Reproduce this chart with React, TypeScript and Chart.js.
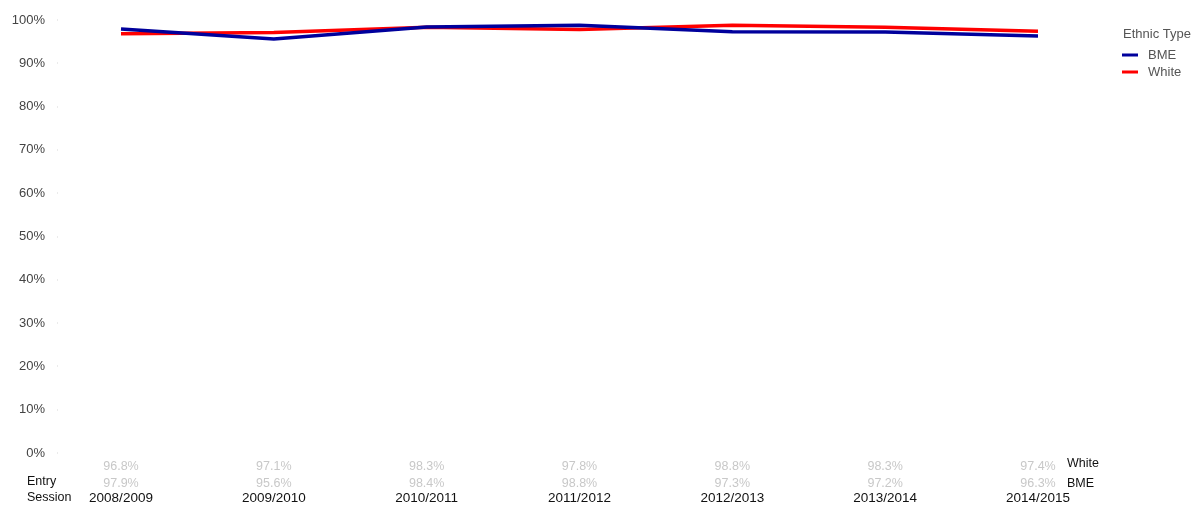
import React, { useEffect, useRef } from "react";
import { Chart, registerables } from "chart.js";

Chart.register(...registerables);

const categories = ["2008/2009", "2009/2010", "2010/2011", "2011/2012", "2012/2013", "2013/2014", "2014/2015"];
const bmeValues = [97.9, 95.6, 98.4, 98.8, 97.3, 97.2, 96.3];
const whiteValues = [96.8, 97.1, 98.3, 97.8, 98.8, 98.3, 97.4];
const seriesNames = ["BME", "White"];
const seriesColors = ["#00009c", "#ff0000"];
const legendTitle = "Ethnic Type";
const axisTitleLines = ["Entry", "Session"];

const FONT = "'Liberation Sans', Arial, sans-serif";

const tablePlugin = {
  id: "tablePlugin",
  afterDraw(chart: any) {
    const ctx = chart.ctx;
    const xs = chart.scales.x;
    const area = chart.chartArea;
    ctx.save();
    ctx.font = `12.5px ${FONT}`;
    ctx.textBaseline = "middle";
    // value rows
    ctx.fillStyle = "#c8c8c8";
    ctx.textAlign = "center";
    categories.forEach((_, i) => {
      const x = xs.getPixelForValue(i);
      ctx.fillText(whiteValues[i].toFixed(1) + "%", x, 467);
      ctx.fillText(bmeValues[i].toFixed(1) + "%", x, 484);
    });
    // row labels
    ctx.fillStyle = "#111";
    ctx.textAlign = "left";
    ctx.fillText(seriesNames[1], area.right + 29, 464);
    ctx.fillText(seriesNames[0], area.right + 29, 484);
    ctx.fillText(axisTitleLines[0], 27, 482);
    ctx.fillText(axisTitleLines[1], 27, 498);
    // small tick dots on y axis
    ctx.fillStyle = "#d8d8d8";
    const ys = chart.scales.y;
    ys.ticks.forEach((t: any) => {
      const y = ys.getPixelForValue(t.value);
      ctx.fillRect(57, Math.round(y) - 0.5, 1, 1);
    });
    // legend
    ctx.font = `13px ${FONT}`;
    ctx.fillStyle = "#555";
    ctx.fillText(legendTitle, 1123, 34);
    seriesNames.forEach((name, i) => {
      const y = 55 + i * 17;
      ctx.strokeStyle = seriesColors[i];
      ctx.lineWidth = 3;
      ctx.beginPath();
      ctx.moveTo(1122, y);
      ctx.lineTo(1138, y);
      ctx.stroke();
      ctx.fillStyle = "#555";
      ctx.fillText(name, 1148, y);
    });
    ctx.restore();
  },
};

export default function App() {
  const ref = useRef<HTMLCanvasElement>(null);
  useEffect(() => {
    document.body.style.margin = "0";
    const chart = new Chart(ref.current!, {
      type: "line",
      data: {
        labels: categories,
        datasets: [
          {
            label: seriesNames[0],
            data: bmeValues,
            borderColor: seriesColors[0],
            backgroundColor: seriesColors[0],
            borderWidth: 3.5,
            pointRadius: 0,
            tension: 0,
          },
          {
            label: seriesNames[1],
            data: whiteValues,
            borderColor: seriesColors[1],
            backgroundColor: seriesColors[1],
            borderWidth: 3.5,
            pointRadius: 0,
            tension: 0,
          },
        ],
      },
      options: {
        animation: false,
        responsive: false,
        layout: { padding: { top: 20, right: 165, left: 0, bottom: 0 } },
        plugins: { legend: { display: false }, tooltip: { enabled: false } },
        scales: {
          x: {
            type: "category",
            offset: false,
            grid: { display: false, drawTicks: false },
            border: { display: false },
            ticks: {
              padding: 37,
              color: "#111",
              font: { family: FONT, size: 13.5 },
              maxRotation: 0,
              autoSkip: false,
            },
            afterFit: (s: any) => {
              s.height = 56;
              s.paddingLeft = 0;
              s.paddingRight = 0;
            },
          },
          y: {
            min: 0,
            max: 100,
            grid: { display: false, drawTicks: false },
            border: { display: false },
            ticks: {
              stepSize: 10,
              padding: 76,
              color: "#444",
              font: { family: FONT, size: 13 },
              callback: (v: any) => v + "%",
            },
            afterFit: (s: any) => {
              s.width = 121;
              s.paddingTop = 0;
              s.paddingBottom = 0;
            },
          },
        },
      },
      plugins: [tablePlugin],
    });
    return () => chart.destroy();
  }, []);
  return <canvas ref={ref} width={1203} height={509} style={{ display: "block" }} />;
}
